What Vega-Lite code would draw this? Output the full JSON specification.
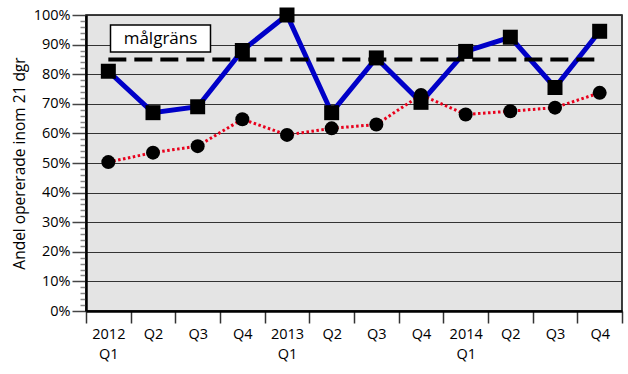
{
  "$schema": "https://vega.github.io/schema/vega-lite/v6.json",
  "width": 536,
  "height": 296,
  "autosize": {"type": "none"},
  "padding": {"left": 86, "top": 15, "right": 6, "bottom": 63},
  "background": "white",
  "config": {
    "font": "Open Sans",
    "view": {"fill": "#e4e4e4", "stroke": "black", "strokeWidth": 1.5}
  },
  "datasets": {
    "blue": [
      {"q": "2012 Q1", "v": 0.81},
      {"q": "Q2", "v": 0.67},
      {"q": "Q3", "v": 0.69},
      {"q": "Q4", "v": 0.88},
      {"q": "2013 Q1", "v": 1.0},
      {"q": "Q2 ", "v": 0.67},
      {"q": "Q3 ", "v": 0.855},
      {"q": "Q4 ", "v": 0.705},
      {"q": "2014 Q1", "v": 0.877},
      {"q": "Q2  ", "v": 0.925},
      {"q": "Q3  ", "v": 0.755},
      {"q": "Q4  ", "v": 0.945}
    ],
    "red": [
      {"q": "2012 Q1", "v": 0.503},
      {"q": "Q2", "v": 0.535},
      {"q": "Q3", "v": 0.557},
      {"q": "Q4", "v": 0.648},
      {"q": "2013 Q1", "v": 0.595},
      {"q": "Q2 ", "v": 0.617},
      {"q": "Q3 ", "v": 0.63},
      {"q": "Q4 ", "v": 0.73},
      {"q": "2014 Q1", "v": 0.664},
      {"q": "Q2  ", "v": 0.675},
      {"q": "Q3  ", "v": 0.687},
      {"q": "Q4  ", "v": 0.737}
    ],
    "goal": [
      {"q": "2012 Q1", "v": 0.85},
      {"q": "Q2", "v": 0.85},
      {"q": "Q3", "v": 0.85},
      {"q": "Q4", "v": 0.85},
      {"q": "2013 Q1", "v": 0.85},
      {"q": "Q2 ", "v": 0.85},
      {"q": "Q3 ", "v": 0.85},
      {"q": "Q4 ", "v": 0.85},
      {"q": "2014 Q1", "v": 0.85},
      {"q": "Q2  ", "v": 0.85},
      {"q": "Q3  ", "v": 0.85},
      {"q": "Q4  ", "v": 0.85}
    ],
    "label": [
      {"q": "Q2", "v": 0.9206, "t": "målgräns"}
    ]
  },
  "encoding": {
    "x": {
      "field": "q",
      "type": "nominal",
      "scale": {
        "type": "band",
        "domain": ["2012 Q1", "Q2", "Q3", "Q4", "2013 Q1", "Q2 ", "Q3 ", "Q4 ", "2014 Q1", "Q2  ", "Q3  ", "Q4  "],
        "paddingInner": 0,
        "paddingOuter": 0
      },
      "axis": {
        "title": null,
        "labelAngle": 0,
        "tickBand": "extent",
        "tickSize": 12,
        "tickColor": "#333333",
        "tickWidth": 1.5,
        "domainColor": "black",
        "domainWidth": 2.5,
        "labelFontSize": 14.5,
        "labelColor": "black",
        "labelPadding": 4,
        "labelLineHeight": 20,
        "labelBaseline": "top",
        "labelExpr": "datum.value == '2012 Q1' ? ['2012', 'Q1'] : datum.value == '2013 Q1' ? ['2013', 'Q1'] : datum.value == '2014 Q1' ? ['2014', 'Q1'] : datum.label",
        "grid": false
      }
    },
    "y": {
      "field": "v",
      "type": "quantitative",
      "scale": {"domain": [0, 1], "nice": false, "zero": true},
      "axis": {
        "title": "Andel opererade inom 21 dgr",
        "titleFontSize": 15.5,
        "titleFontWeight": "normal",
        "titleColor": "black",
        "titlePadding": 6,
        "values": [0,0.02,0.04,0.06,0.08,0.1,0.12,0.14,0.16,0.18,0.2,0.22,0.24,0.26,0.28,0.3,0.32,0.34,0.36,0.38,0.4,0.42,0.44,0.46,0.48,0.5,0.52,0.54,0.56,0.58,0.6,0.62,0.64,0.66,0.68,0.7,0.72,0.74,0.76,0.78,0.8,0.82,0.84,0.86,0.88,0.9,0.92,0.94,0.96,0.98,1.0],
        "format": ".0%",
        "labelExpr": "round(datum.value*100)%10==0 ? datum.label : ''",
        "labelFontSize": 14.5,
        "labelColor": "black",
        "labelPadding": 2,
        "tickSize": 14,
        "tickDash": {"condition": {"test": "round(datum.value*100)%10!=0", "value": [6, 20]}, "value": [20, 0]},
        "tickColor": {"condition": {"test": "round(datum.value*100)%10==0", "value": "#444444"}, "value": "#888888"},
        "tickWidth": 1.5,
        "domainColor": "black",
        "domainWidth": 2.5,
        "grid": true,
        "gridColor": "#333333",
        "gridWidth": 1,
        "gridOpacity": {"condition": {"test": "round(datum.value*100)%10==0", "value": 1}, "value": 0}
      }
    }
  },
  "layer": [
    {
      "data": {"name": "blue"},
      "mark": {"type": "line", "color": "#0000c8", "strokeWidth": 5}
    },
    {
      "data": {"name": "goal"},
      "mark": {"type": "line", "color": "black", "strokeWidth": 4, "strokeDash": [18, 8]}
    },
    {
      "data": {"name": "red"},
      "mark": {"type": "line", "color": "#e8001c", "strokeWidth": 3, "strokeDash": [2.5, 2.5]}
    },
    {
      "data": {"name": "red"},
      "mark": {"type": "point", "shape": "circle", "filled": true, "color": "black", "opacity": 1, "size": 196}
    },
    {
      "data": {"name": "blue"},
      "mark": {"type": "point", "shape": "square", "filled": true, "color": "black", "opacity": 1, "size": 225}
    },
    {
      "data": {"name": "label"},
      "mark": {"type": "point", "shape": "M-0.85,-0.27L1.15,-0.27L1.15,0.27L-0.85,0.27Z", "filled": true, "fill": "white", "stroke": "black", "strokeWidth": 1.5, "opacity": 1, "size": 10000}
    },
    {
      "data": {"name": "label"},
      "mark": {"type": "text", "fontSize": 17, "color": "black", "dx": 7.5, "baseline": "middle", "align": "center"},
      "encoding": {"text": {"field": "t"}}
    }
  ]
}
